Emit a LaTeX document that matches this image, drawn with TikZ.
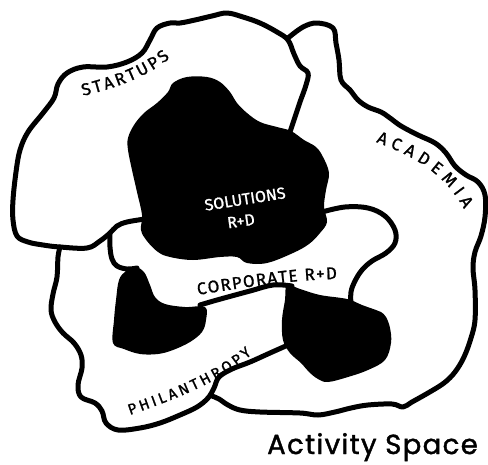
\documentclass[tikz,border=0pt]{standalone}
\usepackage{fontspec}
\newfontfamily\hand{Fira Sans}[FakeBold=1.2]
\newfontfamily\pop{Poppins}[FakeBold=1.5, LetterSpace=5]
\usetikzlibrary{decorations.text}
\begin{document}
\begin{tikzpicture}[x=1pt,y=-1pt,
  outline/.style={line width=5pt, line cap=round, line join=round},
  blob/.style={fill=black},
  handtext/.style={decorate, decoration={text along path, text align={fit to path}, text={|\hand\fontsize{17}{17}\selectfont|#1}}},
  smallhand/.style={decorate, decoration={text along path, text align={fit to path}, text={|\hand\fontsize{15}{15}\selectfont|#1}}},
  whitelbl/.style={text=white, font=\hand\fontsize{16}{16}\selectfont, inner sep=0pt}]
\useasboundingbox[fill=white] (0,0) rectangle (488,464);
% startups outline
\draw[outline] plot[smooth, tension=0.6] coordinates {(145,219) (127,222) (117,226) (110,233) (100,241) (87,248) (60,247) (43,245) (28,242) (17,236) (13,220) (13,200) (16,172) (20,150) (28,132) (43,113) (54,98) (58,84) (67,73) (83,67) (107,67) (127,62) (142,53) (150,40) (157,28) (170,23) (180,23) (195,20) (212,16) (227,13) (243,17) (260,23) (277,32) (288,40) (294,54) (300,66) (308,73) (306,85) (300,102) (294,120) (290,132)};
% academia outline
\draw[outline] plot[smooth, tension=0.6] coordinates {(288,38) (303,27) (317,23) (333,28) (336,43) (339,60) (341,80) (350,90) (358,100) (368,107) (381,112) (390,118) (401,126) (418,135) (435,143) (446,153) (455,166) (466,175) (478,182) (485,195) (485,217) (481,236) (475,252) (473,268) (475,290) (475,320) (471,338) (464,357) (455,372) (444,383) (428,393) (412,402) (403,407) (392,404) (368,405) (351,408) (335,412) (318,415) (300,413) (260,412) (240,410) (228,405) (219,399) (212,396)};
% philanthropy outline
\draw[outline] plot[smooth, tension=0.6] coordinates {(60,247) (58,257) (57,277) (53,294) (51,310) (55,322) (63,333) (74,343) (81,355) (82,368) (78,385) (81,397) (95,403) (102,411) (106,423) (118,430) (140,428) (160,423) (180,415) (197,407) (208,398) (214,388) (219,377) (232,369) (250,362) (270,353) (288,345)};
% corporate outlines
\draw[outline] plot[smooth, tension=0.6] coordinates {(110,233) (110,247) (112,259) (117,266) (127,269) (137,268)};
\draw[outline] plot[smooth, tension=0.6] coordinates {(322,212) (345,207) (368,208) (385,216) (395,230) (395,243) (386,253) (372,261) (362,270) (355,281) (351,292) (351,305)};
\draw[outline] plot[smooth, tension=0.6] coordinates {(200,305) (217,300) (250,291) (273,285) (292,286)};
% black blobs
\fill[blob] plot[smooth cycle, tension=0.6] coordinates {(173,83) (187,77) (207,77) (220,82) (230,92) (237,103) (247,113) (260,122) (277,127) (291,131) (304,140) (316,147) (323,157) (329,173) (326,190) (324,207) (327,222) (320,233) (309,244) (293,253) (267,263) (247,263) (237,257) (220,257) (193,260) (170,257) (158,252) (147,241) (141,230) (142,215) (137,192) (132,170) (128,150) (128,138) (134,125) (144,113) (157,103) (168,92)};
\fill[blob] plot[smooth cycle, tension=0.6] coordinates {(119,280) (126,271) (135,267) (144,272) (150,285) (155,297) (165,304) (185,307) (205,307) (206,320) (202,332) (190,342) (173,350) (158,354) (140,354) (124,349) (113,343) (114,320) (116,300)};
\fill[blob] plot[smooth cycle, tension=0.6] coordinates {(287,285) (300,289) (320,295) (347,299) (362,305) (376,310) (381,312) (386,317) (390,328) (391,343) (385,360) (368,370) (348,377) (328,382) (318,379) (309,372) (301,363) (290,353) (283,340) (282,320) (285,300)};
% hand labels
\path[handtext=STARTUPS] (83,96) .. controls (112,89) and (146,78) .. (170,58);
\path[handtext=ACADEMIA] (376,142) .. controls (410,155) and (442,170) .. (464,209);
\path[handtext={CORPORATE R+D}] (198,295) .. controls (240,288) and (290,280) .. (337,279);
\path[smallhand=PHILANTHROPY] (130,415) .. controls (170,401) and (218,384) .. (252,354);
\node[whitelbl, rotate=9] (sol) at (245,199) {SOLUTIONS};
\node[whitelbl, rotate=8] (rd) at (241,221) {R+D};
\node[font=\pop\fontsize{27.5}{27.5}\selectfont, anchor=base east, inner sep=0pt] (title) at (478,454) {Activity Space};
\end{tikzpicture}
\end{document}
